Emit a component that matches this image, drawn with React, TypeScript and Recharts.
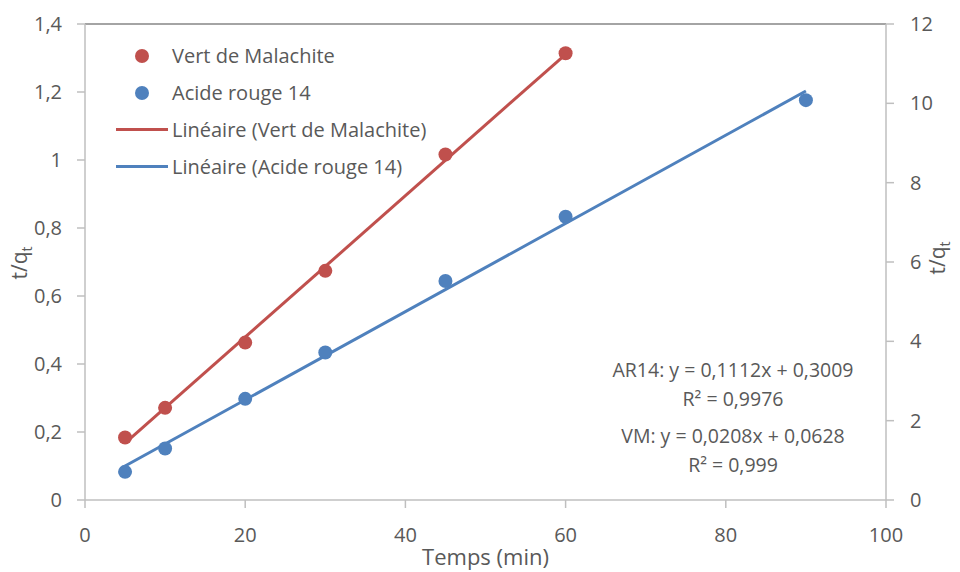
import { ComposedChart, XAxis, YAxis, Scatter, Line, ReferenceLine, Label } from "recharts";

// pseudo-second-order kinetics, t/qt vs time
const vmMinutes = [5, 10, 20, 30, 45, 60];
const vmValues = [0.184, 0.271, 0.463, 0.674, 1.016, 1.314];
const arMinutes = [5, 10, 20, 30, 45, 60, 90];
const arValues = [0.71, 1.3, 2.55, 3.72, 5.52, 7.14, 10.08];

// linear trendline ends
const vmFitMinutes = [5, 60];
const vmFitValues = [0.167, 1.311];
const arFitMinutes = [5, 90];
const arFitValues = [0.857, 10.31];

const xTicks = [0, 20, 40, 60, 80, 100];
const leftTicks = [0, 0.2, 0.4, 0.6, 0.8, 1, 1.2, 1.4];
const rightTicks = [0, 2, 4, 6, 8, 10, 12];
const xMinorTicks = Array.from({ length: 26 }, (_, i) => i * 4);
const leftMinorTicks = Array.from({ length: 36 }, (_, i) => +(i * 0.04).toFixed(2));
const rightMinorTicks = Array.from({ length: 31 }, (_, i) => +(i * 0.4).toFixed(1));

const equations = [
  "AR14: y = 0,1112x + 0,3009",
  "R² = 0,9976",
  "VM: y = 0,0208x + 0,0628",
  "R² = 0,999",
];

const RED = "#C0504D";
const BLUE = "#4F81BD";
const AXIS = "#BFBFBF";
const TEXT = "#595959";
const FONT = "'Open Sans', sans-serif";

const zip = (xs: number[], ys: number[]) => xs.map((x, i) => ({ x, y: ys[i] }));
const vmData = zip(vmMinutes, vmValues);
const arData = zip(arMinutes, arValues);
const vmFit = zip(vmFitMinutes, vmFitValues);
const arFit = zip(arFitMinutes, arFitValues);

const fmt = (v: number) => String(v).replace(".", ",");

const dot = (color: string) => (p: any) => <circle cx={p.cx} cy={p.cy} r={7} fill={color} />;

function AxisTitle({ x, y }: { x: number; y: number }) {
  return (
    <text
      x={x}
      y={y}
      transform={`rotate(-90, ${x}, ${y})`}
      textAnchor="middle"
      fill={TEXT}
      fontSize={21}
      fontFamily={FONT}
    >
      t/q
      <tspan fontSize={14} dy={5}>t</tspan>
    </text>
  );
}

const tickStyle = { fill: TEXT, fontSize: 20, fontFamily: FONT };

export default function App() {
  return (
    <div style={{ position: "absolute", left: 0, top: 0, width: 960, height: 572, background: "#fff" }}>
      <ComposedChart width={960} height={572} margin={{ top: 24, right: 0, bottom: 0, left: 0 }}>
        <XAxis
          xAxisId="main"
          dataKey="x"
          type="number"
          domain={[0, 100]}
          ticks={xTicks}
          interval={0}
          height={72}
          stroke={AXIS}
          strokeWidth={1.5}
          tickSize={8}
          tickMargin={20}
          tick={tickStyle}
          tickFormatter={fmt}
        >
          <Label value="Temps (min)" position="insideBottom" offset={7} fill={TEXT} fontSize={22} fontFamily={FONT} />
        </XAxis>
        <XAxis
          xAxisId="minor"
          dataKey="x"
          type="number"
          domain={[0, 100]}
          ticks={xMinorTicks}
          interval={0}
          mirror
          axisLine={false}
          tick={false}
          tickSize={6}
          stroke={AXIS}
          strokeWidth={1.5}
        />
        <YAxis
          yAxisId="left"
          dataKey="y"
          type="number"
          domain={[0, 1.4]}
          ticks={leftTicks}
          interval={0}
          width={85}
          stroke={AXIS}
          strokeWidth={1.5}
          tickSize={8}
          tickMargin={15}
          tick={tickStyle}
          tickFormatter={fmt}
        >
          <Label content={() => <AxisTitle x={27} y={263} />} />
        </YAxis>
        <YAxis
          yAxisId="leftMinor"
          dataKey="y"
          type="number"
          domain={[0, 1.4]}
          ticks={leftMinorTicks}
          interval={0}
          mirror
          axisLine={false}
          tick={false}
          tickSize={6}
          stroke={AXIS}
          strokeWidth={1.5}
        />
        <YAxis
          yAxisId="right"
          orientation="right"
          dataKey="y"
          type="number"
          domain={[0, 12]}
          ticks={rightTicks}
          interval={0}
          width={74}
          stroke={AXIS}
          strokeWidth={1.5}
          tickSize={8}
          tickMargin={16}
          tick={tickStyle}
          tickFormatter={fmt}
        >
          <Label content={() => <AxisTitle x={945} y={258} />} />
        </YAxis>
        <YAxis
          yAxisId="rightMinor"
          orientation="right"
          dataKey="y"
          type="number"
          domain={[0, 12]}
          ticks={rightMinorTicks}
          interval={0}
          mirror
          axisLine={false}
          tick={false}
          tickSize={6}
          stroke={AXIS}
          strokeWidth={1.5}
        />
        <ReferenceLine xAxisId="main" yAxisId="left" y={1.4} stroke="#868686" strokeWidth={1.5} />
        <Line
          xAxisId="main"
          yAxisId="left"
          data={vmFit}
          dataKey="y"
          stroke={RED}
          strokeWidth={3}
          dot={false}
          isAnimationActive={false}
        />
        <Line
          xAxisId="main"
          yAxisId="right"
          data={arFit}
          dataKey="y"
          stroke={BLUE}
          strokeWidth={3}
          dot={false}
          isAnimationActive={false}
        />
        <Scatter
          xAxisId="main"
          yAxisId="left"
          data={vmData}
          dataKey="y"
          shape={dot(RED)}
          isAnimationActive={false}
        />
        <Scatter
          xAxisId="main"
          yAxisId="right"
          data={arData}
          dataKey="y"
          shape={dot(BLUE)}
          isAnimationActive={false}
        />
      </ComposedChart>

      <div style={{ position: "absolute", left: 112, top: 37, fontFamily: FONT, fontSize: 20, color: TEXT }}>
        {[
          { name: "Vert de Malachite", color: RED, kind: "dot" },
          { name: "Acide rouge 14", color: BLUE, kind: "dot" },
          { name: "Linéaire (Vert de Malachite)", color: RED, kind: "line" },
          { name: "Linéaire (Acide rouge 14)", color: BLUE, kind: "line" },
        ].map((it) => (
          <div key={it.name} style={{ display: "flex", alignItems: "center", height: 37 }}>
            <div style={{ width: 60, display: "flex", justifyContent: "center" }}>
              {it.kind === "dot" ? (
                <div style={{ width: 14, height: 14, borderRadius: 7, background: it.color }} />
              ) : (
                <div style={{ width: 52, height: 3, background: it.color }} />
              )}
            </div>
            <span style={{ whiteSpace: "nowrap" }}>{it.name}</span>
          </div>
        ))}
      </div>

      <div
        style={{
          position: "absolute",
          left: 533,
          top: 355,
          width: 400,
          textAlign: "center",
          fontFamily: FONT,
          fontSize: 19.5,
          color: TEXT,
          lineHeight: "29px",
        }}
      >
        {equations.map((e, i) => (
          <div key={e} style={{ marginTop: i === 2 ? 8 : 0 }}>{e}</div>
        ))}
      </div>
    </div>
  );
}
